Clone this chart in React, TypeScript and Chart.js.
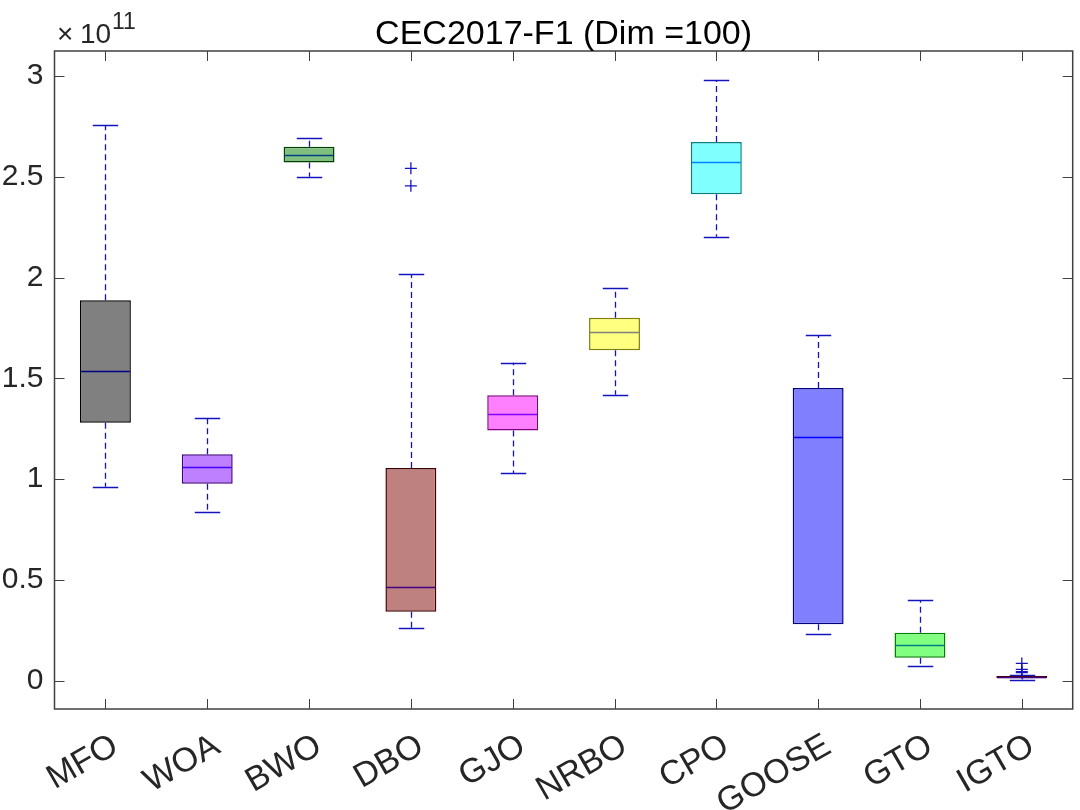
import React, { useEffect, useRef } from "react";
import { Chart, registerables } from "chart.js";

Chart.register(...registerables);

// ---- data (values in units of 1e11) ----
const categories = ["MFO", "WOA", "BWO", "DBO", "GJO", "NRBO", "CPO", "GOOSE", "GTO", "IGTO"];
const whiskerLow = [0.962, 0.837, 2.5, 0.263, 1.03, 1.419, 2.202, 0.232, 0.073, 0.006];
const q1 = [1.28, 0.977, 2.571, 0.342, 1.242, 1.639, 2.413, 0.28, 0.114, 0.013];
const medians = [1.535, 1.06, 2.606, 0.463, 1.324, 1.731, 2.574, 1.21, 0.179, 0.019];
const q3 = [1.888, 1.124, 2.649, 1.055, 1.416, 1.801, 2.672, 1.452, 0.238, 0.024];
const whiskerHigh = [2.755, 1.305, 2.693, 2.017, 1.577, 1.949, 2.978, 1.715, 0.399, 0.03];
const outlierCats = ["DBO", "DBO", "IGTO", "IGTO", "IGTO", "IGTO"];
const outlierValues = [2.542, 2.455, 0.086, 0.057, 0.045, 0.04];
const yTicks = [0, 0.5, 1, 1.5, 2, 2.5, 3];
const titleText = "CEC2017-F1 (Dim =100)";

// ---- styles ----
const fillColors = [
  "rgb(128,128,128)", "rgb(191,128,255)", "rgb(128,191,128)", "rgb(191,128,128)", "rgb(255,128,255)",
  "rgb(255,255,128)", "rgb(128,255,255)", "rgb(128,128,255)", "rgb(128,255,128)", "rgb(191,128,128)",
];
const edgeColors = [
  "rgb(0,0,0)", "rgb(64,0,128)", "rgb(0,64,0)", "rgb(64,0,0)", "rgb(128,0,128)",
  "rgb(128,128,0)", "rgb(0,128,128)", "rgb(0,0,128)", "rgb(0,128,0)", "rgb(64,0,0)",
];
const medianColors = [
  "rgb(0,0,128)", "rgb(64,0,255)", "rgb(0,64,128)", "rgb(64,0,128)", "rgb(128,0,255)",
  "rgb(128,128,128)", "rgb(0,128,255)", "rgb(0,0,255)", "rgb(0,128,128)", "rgb(64,0,128)",
];
const WHISKER = "rgb(20,20,190)";
const AXIS = "rgb(64,64,64)";
const TEXT = "rgb(38,38,38)";
const FONT = '"Liberation Sans", Arial, Helvetica, sans-serif';

const boxPlugin = {
  id: "boxParts",
  beforeDatasetsDraw(chart: any) {
    const { ctx, scales } = chart;
    const x = scales.x, y = scales.y;
    const step = x.getPixelForValue(1) - x.getPixelForValue(0);
    const capHalf = step * 0.125;
    ctx.save();
    ctx.lineWidth = 1.3;
    ctx.strokeStyle = WHISKER;
    categories.forEach((_, i) => {
      const cx = Math.round(x.getPixelForValue(i)) + 0.5;
      ctx.setLineDash([6, 4]);
      ctx.beginPath();
      ctx.moveTo(cx, y.getPixelForValue(q3[i]));
      ctx.lineTo(cx, y.getPixelForValue(whiskerHigh[i]));
      ctx.moveTo(cx, y.getPixelForValue(q1[i]));
      ctx.lineTo(cx, y.getPixelForValue(whiskerLow[i]));
      ctx.stroke();
      ctx.setLineDash([]);
      ctx.beginPath();
      const yh = Math.round(y.getPixelForValue(whiskerHigh[i])) + 0.5;
      const yl = Math.round(y.getPixelForValue(whiskerLow[i])) + 0.5;
      ctx.moveTo(cx - capHalf, yh);
      ctx.lineTo(cx + capHalf, yh);
      ctx.moveTo(cx - capHalf, yl);
      ctx.lineTo(cx + capHalf, yl);
      ctx.stroke();
    });
    ctx.restore();
  },
  afterDatasetsDraw(chart: any) {
    const { ctx, scales } = chart;
    const x = scales.x, y = scales.y;
    const step = x.getPixelForValue(1) - x.getPixelForValue(0);
    const half = step * 0.25;
    ctx.save();
    ctx.lineWidth = 1.5;
    categories.forEach((_, i) => {
      const cx = x.getPixelForValue(i);
      const ym = Math.round(y.getPixelForValue(medians[i])) + 0.5;
      ctx.strokeStyle = medianColors[i];
      ctx.beginPath();
      ctx.moveTo(cx - half + 1, ym);
      ctx.lineTo(cx + half - 1, ym);
      ctx.stroke();
    });
    ctx.restore();
  },
  afterDraw(chart: any) {
    const { ctx, chartArea: a, scales } = chart;
    const x = scales.x, y = scales.y;
    ctx.save();
    // frame
    ctx.strokeStyle = AXIS;
    ctx.lineWidth = 1.5;
    ctx.strokeRect(a.left, a.top, a.right - a.left, a.bottom - a.top);
    // inward ticks
    ctx.lineWidth = 1;
    ctx.beginPath();
    const tl = 10;
    categories.forEach((_, i) => {
      const px = Math.round(x.getPixelForValue(i)) + 0.5;
      ctx.moveTo(px, a.bottom);
      ctx.lineTo(px, a.bottom - tl);
      ctx.moveTo(px, a.top);
      ctx.lineTo(px, a.top + tl);
    });
    yTicks.forEach((v) => {
      const py = Math.round(y.getPixelForValue(v)) + 0.5;
      ctx.moveTo(a.left, py);
      ctx.lineTo(a.left + tl, py);
      ctx.moveTo(a.right, py);
      ctx.lineTo(a.right - tl, py);
    });
    ctx.stroke();
    // title
    ctx.fillStyle = "#000";
    ctx.font = `34px ${FONT}`;
    ctx.textAlign = "center";
    ctx.textBaseline = "alphabetic";
    ctx.fillText(titleText, (a.left + a.right) / 2, 44);
    // exponent
    ctx.fillStyle = TEXT;
    ctx.textAlign = "left";
    ctx.font = `28px ${FONT}`;
    ctx.fillText("\u00d7", 57, 43);
    ctx.fillText("10", 80, 43);
    ctx.font = `23px ${FONT}`;
    ctx.fillText("11", 112, 29);
    ctx.restore();
  },
};

export default function App() {
  const ref = useRef<HTMLCanvasElement>(null);
  useEffect(() => {
    if (!ref.current) return;
    const chart = new Chart(ref.current, {
      type: "bar",
      data: {
        labels: categories,
        datasets: [
          {
            type: "bar",
            data: categories.map((_, i) => [q1[i], q3[i]]) as any,
            backgroundColor: fillColors,
            borderColor: edgeColors,
            borderWidth: 1.5,
            borderSkipped: false,
            categoryPercentage: 1,
            barPercentage: 0.5,
            grouped: false,
          } as any,
          {
            type: "scatter",
            data: outlierCats.map((c, i) => ({ x: c, y: outlierValues[i] })) as any,
            pointStyle: "cross",
            pointRadius: 6,
            borderColor: WHISKER,
            backgroundColor: WHISKER,
            borderWidth: 1.3,
          } as any,
        ],
      },
      options: {
        animation: false,
        responsive: false,
        layout: { padding: { top: 51, right: 1, left: 0, bottom: 0 } },
        plugins: { legend: { display: false }, tooltip: { enabled: false }, title: { display: false } },
        scales: {
          x: {
            type: "category",
            offset: true,
            grid: { display: false, drawTicks: false },
            border: { display: false },
            ticks: {
              color: TEXT,
              font: { size: 34, family: FONT },
              minRotation: 30,
              maxRotation: 30,
              padding: 17,
              labelOffset: 10,
              autoSkip: false,
            },
            afterFit: (s: any) => {
              s.height = 101;
            },
          },
          y: {
            type: "linear",
            min: -0.14,
            max: 3.124,
            grid: { display: false, drawTicks: false },
            border: { display: false },
            ticks: {
              color: TEXT,
              font: { size: 30, family: FONT },
              padding: 11,
              callback: (v: any) => String(v),
            },
            afterBuildTicks: (s: any) => {
              s.ticks = yTicks.map((v) => ({ value: v }));
            },
            afterFit: (s: any) => {
              s.width = 54.5;
            },
          },
        },
      },
      plugins: [boxPlugin],
    });
    return () => chart.destroy();
  }, []);
  return (
    <div style={{ position: "fixed", left: 0, top: 0, width: 1080, height: 810, background: "#fff" }}>
      <canvas ref={ref} width={1080} height={810} />
    </div>
  );
}
